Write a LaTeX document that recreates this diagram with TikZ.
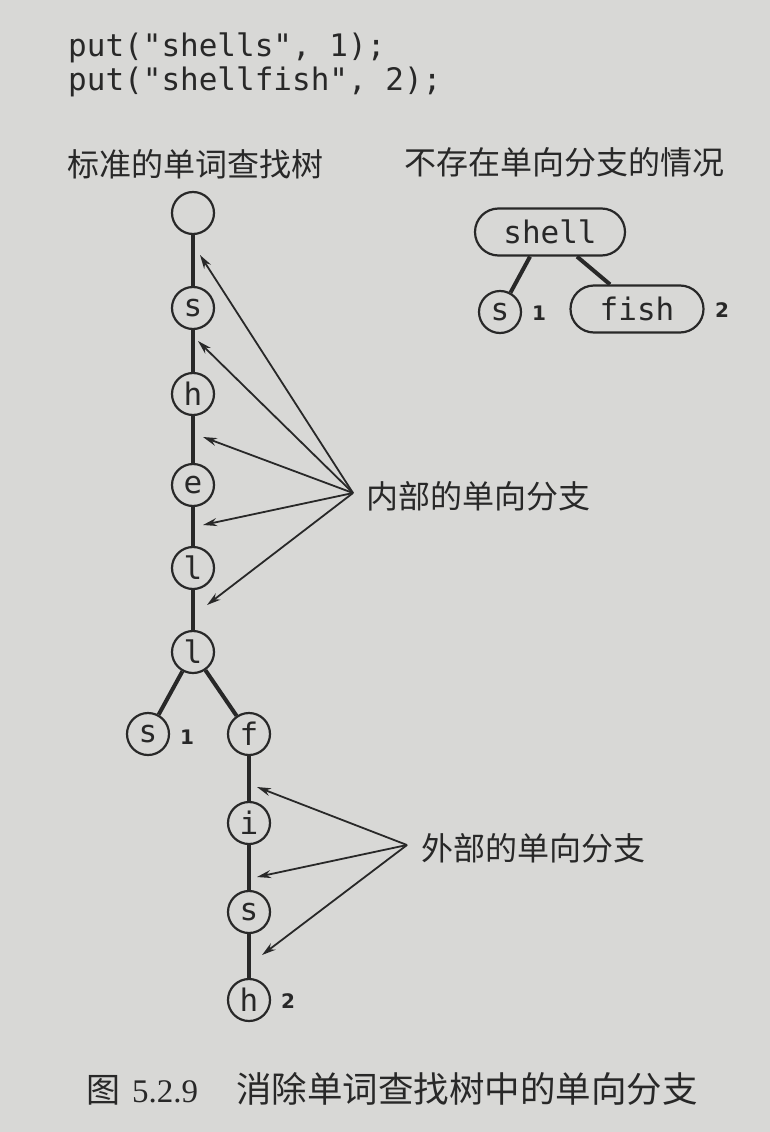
\documentclass[tikz,border=0pt]{standalone}
\usepackage{fontspec}
\setmainfont{Liberation Serif}
\newfontfamily\cjk{Noto Sans CJK SC}
\newfontfamily\mono{DejaVu Sans Mono}
\newfontfamily\numf{DejaVu Sans}
\usetikzlibrary{arrows.meta,shapes.misc}
\definecolor{bg}{RGB}{216,216,214}
\definecolor{ink}{RGB}{40,40,40}
\begin{document}
\begin{tikzpicture}[x=1pt,y=-1pt,
  trie/.style={circle,draw=ink,line width=2.2pt,minimum size=42pt,inner sep=0pt,
    text=ink,font=\mono\fontsize{31}{31}\selectfont},
  seg/.style={rounded rectangle,draw=ink,line width=2.2pt,minimum height=47pt,inner sep=0pt,
    text=ink,font=\mono\fontsize{31}{31}\selectfont},
  edge/.style={draw=ink,line width=4pt},
  pointer/.style={draw=ink,line width=1.8pt,-{Stealth[length=14pt,width=8pt]}},
  val/.style={inner sep=0pt,text=ink,font=\numf\bfseries\fontsize{20}{20}\selectfont},
  code/.style={anchor=base west,inner sep=0pt,text=ink,font=\mono\fontsize{31}{31}\selectfont},
  label/.style={anchor=west,inner sep=0pt,text=ink,font=\cjk\fontsize{32}{32}\selectfont},
]
\fill[bg] (0,0) rectangle (770,1132);
\useasboundingbox (0,0) rectangle (770,1132);

% code lines
\node[code] (c1) at (68,57) {put("shells", 1);};
\node[code] (c2) at (68,90) {put("shellfish", 2);};

% titles
\node[label] (t1) at (67,164) {标准的单词查找树};
\node[label] (t2) at (404,162) {不存在单向分支的情况};

% standard trie
\node[trie] (r)  at (193,213) {};
\node[trie] (n1) at (193,308) {s};
\node[trie] (n2) at (193,394) {h};
\node[trie] (n3) at (193,485) {e};
\node[trie] (n4) at (193,568) {l};
\node[trie] (n5) at (193,652) {l};
\node[trie] (n6) at (148,734) {s};
\node[trie] (n7) at (249,734) {f};
\node[trie] (n8) at (249,823) {i};
\node[trie] (n9) at (249,912) {s};
\node[trie] (n10) at (249,1000) {h};
\node[val] (v1) at (187,737) {1};
\node[val] (v2) at (288,1001) {2};

\draw[edge] (r) -- (n1);
\draw[edge] (n1) -- (n2);
\draw[edge] (n2) -- (n3);
\draw[edge] (n3) -- (n4);
\draw[edge] (n4) -- (n5);
\draw[edge] (n5) -- (n6);
\draw[edge] (n5) -- (n7);
\draw[edge] (n7) -- (n8);
\draw[edge] (n8) -- (n9);
\draw[edge] (n9) -- (n10);

% internal one-way branches
\node[label] (inl) at (366,496) {内部的单向分支};
\coordinate (io) at (353,493);
\coordinate (it1) at (200,255);
\coordinate (it2) at (198,341);
\coordinate (it3) at (203,437);
\coordinate (it4) at (203,525);
\coordinate (it5) at (207,605);
\foreach \t in {it1,it2,it3,it4,it5} \draw[pointer] (io) -- (\t);

% external one-way branches
\node[label] (exl) at (421,848) {外部的单向分支};
\coordinate (eo) at (407,845);
\coordinate (et1) at (257,787);
\coordinate (et2) at (257,877);
\coordinate (et3) at (262,955);
\foreach \t in {et1,et2,et3} \draw[pointer] (eo) -- (\t);

% compressed trie
\node[seg,minimum width=150pt] (shell) at (550,232) {shell};
\node[trie] (rs) at (500,312) {s};
\node[seg,minimum width=133pt] (fish) at (637,309) {fish};
\node[val] (rv1) at (539,313) {1};
\node[val] (rv2) at (722,310) {2};
\draw[edge] ([xshift=-20pt]shell.south) -- (rs);
\draw[edge] ([xshift=27pt]shell.south) -- ([xshift=-27pt]fish.north);

% caption
\node[anchor=base west,inner sep=0pt,text=ink,font=\cjk\fontsize{34}{34}\selectfont] (cap1) at (86,1102) {图};
\node[anchor=base west,inner sep=0pt,text=ink,font=\fontsize{33}{33}\selectfont] (cap2) at (132,1102) {5.2.9};
\node[anchor=base west,inner sep=0pt,text=ink,font=\cjk\fontsize{35.5}{35.5}\selectfont] (cap3) at (236,1102) {消除单词查找树中的单向分支};
\end{tikzpicture}
\end{document}
